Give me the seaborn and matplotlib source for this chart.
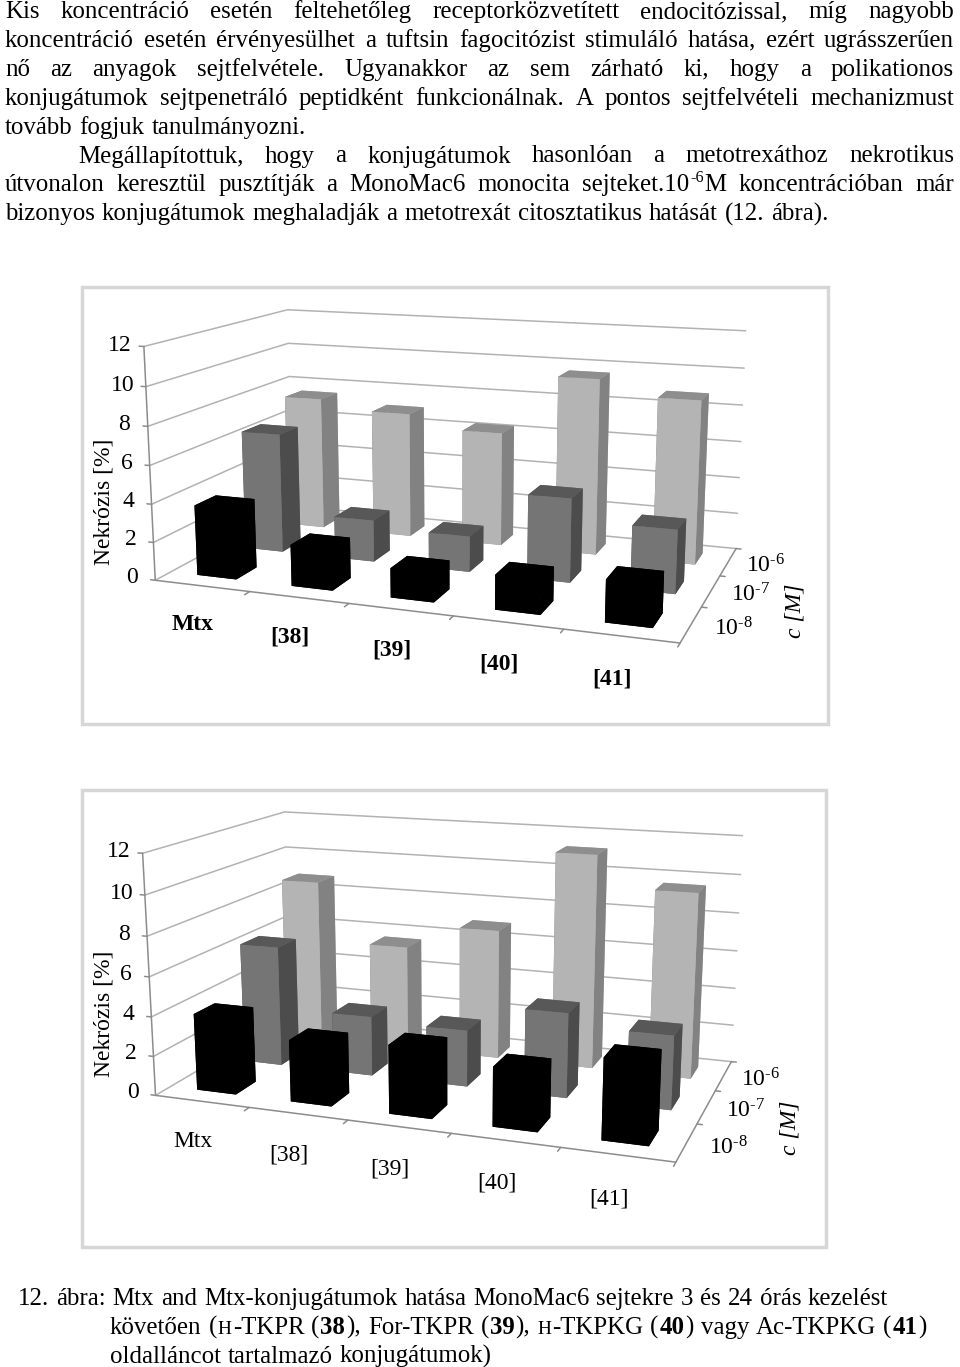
import matplotlib
matplotlib.use("Agg")
import matplotlib.pyplot as plt
from matplotlib.patches import Rectangle
from mpl_toolkits.mplot3d import proj3d
import seaborn as sns

# chart values, rows are 10-8, 10-7, 10-6 M
categories = ["Mtx", "[38]", "[39]", "[40]", "[41]"]
z_ticks = [0, 2, 4, 6, 8, 10, 12]
conc_labels = [r"10$^{\text{-}8}$", r"10$^{\text{-}7}$", r"10$^{\text{-}6}$"]

top_e8 = [3.7, 2.15, 1.5, 1.75, 2.1]
top_e7 = [6.5, 2.25, 1.9, 4.4, 3.3]
top_e6 = [7.5, 7.0, 6.3, 9.6, 8.8]

bottom_e8 = [3.9, 3.1, 3.4, 2.9, 3.9]
bottom_e7 = [6.3, 3.1, 2.9, 4.3, 3.7]
bottom_e6 = [8.8, 5.6, 6.9, 11.2, 9.6]

# face order of bar3d: bottom, top, front, back, left, right
shades = [
    {"front": "#000000", "top": "#000000", "side": "#000000"},
    {"front": "#757575", "top": "#585858", "side": "#4c4c4c"},
    {"front": "#b4b4b4", "top": "#8e8e8e", "side": "#828282"},
]

# page text, *bold*, ^superscript^, ~small~
body = [
    ("Kis koncentráció esetén feltehetőleg receptorközvetített endocitózissal, míg nagyobb", 5, True),
    ("koncentráció esetén érvényesülhet a tuftsin fagocitózist stimuláló hatása, ezért ugrásszerűen", 5, True),
    ("nő az anyagok sejtfelvétele. Ugyanakkor az sem zárható ki, hogy a polikationos", 5, True),
    ("konjugátumok sejtpenetráló peptidként funkcionálnak. A pontos sejtfelvételi mechanizmust", 5, True),
    ("tovább fogjuk tanulmányozni.", 5, False),
    ("Megállapítottuk, hogy a konjugátumok hasonlóan a metotrexáthoz nekrotikus", 78, True),
    ("útvonalon keresztül pusztítják a MonoMac6 monocita sejteket.10^-6^M koncentrációban már", 5, True),
    ("bizonyos konjugátumok meghaladják a metotrexát citosztatikus hatását (12. ábra).", 5, False),
]
caption = [
    ("12. ábra: Mtx and Mtx-konjugátumok hatása MonoMac6 sejtekre 3 és 24 órás kezelést", 18),
    ("követően (~H~-TKPR (*38*), For-TKPR (*39*), ~H~-TKPKG (*40*) vagy Ac-TKPKG (*41*)", 110),
    ("oldalláncot tartalmazó konjugátumok)", 110),
]

sns.set_theme(style="white")
plt.rcParams["font.family"] = ["Liberation Serif", "DejaVu Serif"]
plt.rcParams["mathtext.fontset"] = "custom"
plt.rcParams["mathtext.rm"] = "Liberation Serif"
plt.rcParams["mathtext.it"] = "Liberation Serif:italic"
plt.rcParams["mathtext.bf"] = "Liberation Serif:bold"

W, H = 960, 1367
fig = plt.figure(figsize=(W / 100, H / 100), dpi=100)
renderer = fig.canvas.get_renderer()
TEXT_SIZE = 17.9


def parse_word(word):
    runs, buf = [], ""
    bold = sup = small = False
    for ch in word:
        if ch in "*^~":
            if buf:
                runs.append((buf, bold, sup, small))
            buf = ""
            if ch == "*":
                bold = not bold
            elif ch == "^":
                sup = not sup
            else:
                small = not small
        else:
            buf += ch
    if buf:
        runs.append((buf, bold, sup, small))
    return runs


def put_line(line, x0, base, x1=None):
    # measure each word, then spread the gaps when the line is justified
    words = []
    for word in line.split(" "):
        pieces = []
        for s, bold, sup, small in parse_word(word):
            size = TEXT_SIZE * (0.65 if sup else 0.78 if small else 1)
            t = fig.text(0.5, 0.5, s, fontsize=size, fontweight="bold" if bold else "normal",
                         va="baseline", color="black")
            pieces.append((t, t.get_window_extent(renderer).width + 1, -9 if sup else 0))
        words.append(pieces)
    total = sum(p[1] for w in words for p in w)
    gap = 5.9 if x1 is None else (x1 - x0 - total) / (len(words) - 1)
    x = x0
    for pieces in words:
        for t, w, rise in pieces:
            t.set_position((x / W, 1 - (base + rise) / H))
            x += w
        x += gap


for i, (line, x0, just) in enumerate(body):
    put_line(line, x0, 18 + 28.9 * i, 955 if just else None)
for i, (line, x0) in enumerate(caption):
    put_line(line, x0, 1305 + 29 * i)


def label(ax, x, y, z, s, **kw):
    # 3d data position to a plain figure text
    x2, y2, _ = proj3d.proj_transform(x, y, z, ax.get_proj())
    px, py = ax.transData.transform((x2, y2))
    fig.text(px / W, py / H, s, ha="center", va="center", color="black", fontsize=17, **kw)


def draw_chart(rows, frame, center, side, aspect, bold, elev, azim, focal):
    l, t, r, b = frame
    fig.add_artist(Rectangle((l / W, 1 - b / H), (r - l) / W, (b - t) / H, transform=fig.transFigure,
                             fc="white", ec="#d6d6d6", lw=2.5, zorder=-1))
    ax = fig.add_axes([(center[0] - 0.5135 * side) / W, 1 - (center[1] + 0.5135 * side) / H,
                       side / W, side / H], projection="3d", proj_type="persp", focal_length=focal)
    ax.set_box_aspect(aspect)
    ax.view_init(elev=elev, azim=azim)
    ax.computed_zorder = False
    ax.set_axis_off()
    ax.patch.set_visible(False)

    nx, ny, zmax = len(categories), len(rows), z_ticks[-1]
    wall = dict(color="#b2b2b2", lw=1.1, zorder=1)
    edge = dict(color="#8c8c8c", lw=1.1, zorder=1)
    for z in z_ticks[1:]:
        ax.plot([0, 0, nx], [0, ny, ny], [z, z, z], **wall)
    ax.plot([0, 0, nx], [0, ny, ny], [0, 0, 0], **wall)
    ax.plot([0, 0], [0, 0], [0, zmax], **edge)
    ax.plot([0, nx, nx], [0, 0, ny], [0, 0, 0], **edge)
    for z in z_ticks:
        ax.plot([0, -0.05], [0, 0], [z, z], **edge)
    for i in range(1, nx + 1):
        ax.plot([i, i], [0, -0.1], [0, 0], **edge)
    for j in range(1, ny + 1):
        ax.plot([nx, nx + 0.05], [j, j], [0, 0], **edge)

    # back row first, left to right, the camera sits at the front right
    order = 2
    for j in reversed(range(ny)):
        c = shades[j]
        faces = [c["top"], c["top"], c["front"], c["front"], c["side"], c["side"]]
        for i, v in enumerate(rows[j]):
            ax.bar3d(i + 0.29, j + 0.29, 0, 0.42, 0.42, v, color=faces, shade=False,
                     linewidth=0, zorder=order)
            order += 1

    ax.set_xlim(0, nx)
    ax.set_ylim(0, ny)
    ax.set_zlim(0, zmax)
    ax.apply_aspect()

    for z in z_ticks:
        label(ax, -0.25, 0, z, str(z))
    for i, name in enumerate(categories):
        label(ax, i + 0.47, -0.15, -1.8, name, fontweight="bold" if bold else "normal")
    for j, name in enumerate(conc_labels):
        label(ax, nx + 0.36, j + 0.5, 0, name)
    label(ax, -0.52, 0, 3.9, "Nekrózis [%]", rotation=90)
    label(ax, nx + 0.8, 1.2, 0, "c [M]", rotation=90, style="italic")
    return ax


draw_chart([top_e8, top_e7, top_e6], (82, 287, 828, 724), (456.3, 453.1), 624.5,
           (5, 2.921, 2.229), True, 12.7, -70.17, 0.422)
draw_chart([bottom_e8, bottom_e7, bottom_e6], (82, 790, 826, 1247), (453.8, 963.4), 624.6,
           (5, 2.906, 2.334), False, 13.96, -70.24, 0.422)

fig.savefig("out.png", dpi=100)
